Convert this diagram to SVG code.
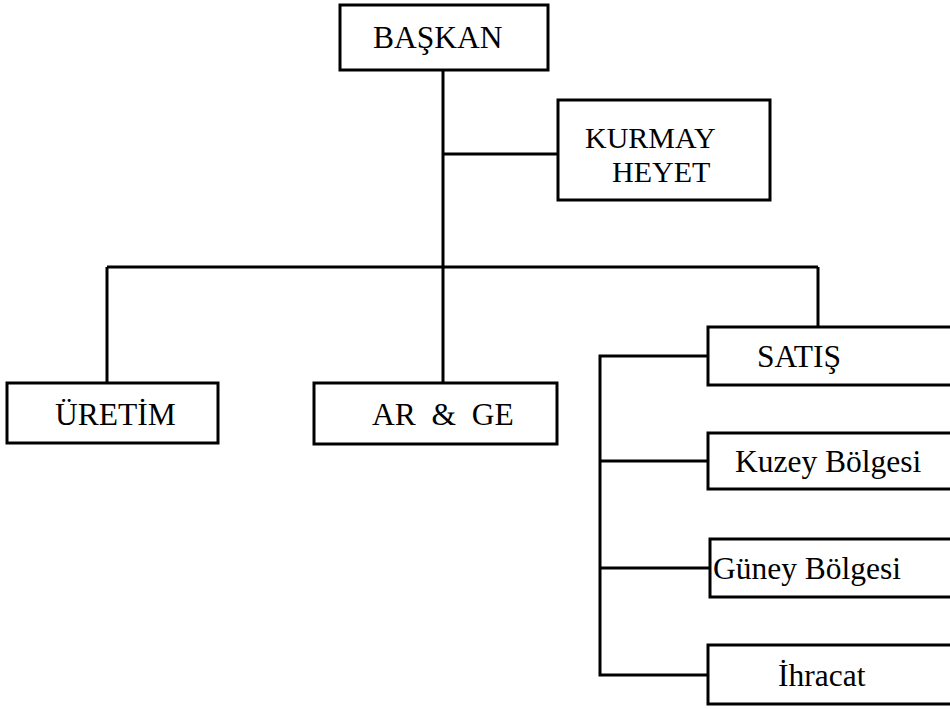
<svg xmlns="http://www.w3.org/2000/svg" width="950" height="709" viewBox="0 0 950 709">
  <style>
    .box { fill: #fff; stroke: #000; stroke-width: 3; }
    .lbl { font-family: "Liberation Serif", "Times New Roman", serif; font-size: 31.5px; fill: #000; }
    .lbl2 { font-family: "Liberation Serif", "Times New Roman", serif; font-size: 30px; fill: #000; }
    .wire { fill: none; stroke: #000; stroke-width: 3; }
  </style>
  <rect width="950" height="709" fill="#fff"/>

  <!-- tree connectors -->
  <g id="connectors">
    <path class="wire" d="M443,70 V383"/>
    <path class="wire" d="M443,154 H558"/>
    <path class="wire" d="M107,267 H818"/>
    <path class="wire" d="M107,267 V383"/>
    <path class="wire" d="M818,267 V327"/>
    <path class="wire" d="M708,356 H600 V675 H708"/>
    <path class="wire" d="M600,461 H708"/>
    <path class="wire" d="M600,568 H710"/>
  </g>

  <g id="baskan">
    <rect class="box" x="340" y="5" width="208" height="65"/>
    <text class="lbl" x="373" y="48">BAŞKAN</text>
  </g>
  <g id="kurmay-heyet">
    <rect class="box" x="558" y="100" width="212" height="100"/>
    <text class="lbl2" x="585" y="148">KURMAY</text>
    <text class="lbl2" x="612" y="182">HEYET</text>
  </g>
  <g id="uretim">
    <rect class="box" x="7" y="383" width="211" height="60"/>
    <text class="lbl" x="55" y="425">ÜRETİM</text>
  </g>
  <g id="arge">
    <rect class="box" x="314" y="383" width="243" height="61"/>
    <text class="lbl" x="372" y="425" xml:space="preserve">AR  &amp;  GE</text>
  </g>
  <g id="satis">
    <rect class="box" x="708" y="327" width="246" height="58"/>
    <text class="lbl" x="757" y="367">SATIŞ</text>
  </g>
  <g id="kuzey">
    <rect class="box" x="708" y="433" width="246" height="56"/>
    <text class="lbl" x="735" y="472">Kuzey Bölgesi</text>
  </g>
  <g id="guney">
    <rect class="box" x="710" y="539" width="244" height="58"/>
    <text class="lbl" x="713" y="579">Güney Bölgesi</text>
  </g>
  <g id="ihracat">
    <rect class="box" x="708" y="645" width="246" height="59"/>
    <text class="lbl" x="778" y="686">İhracat</text>
  </g>
</svg>
